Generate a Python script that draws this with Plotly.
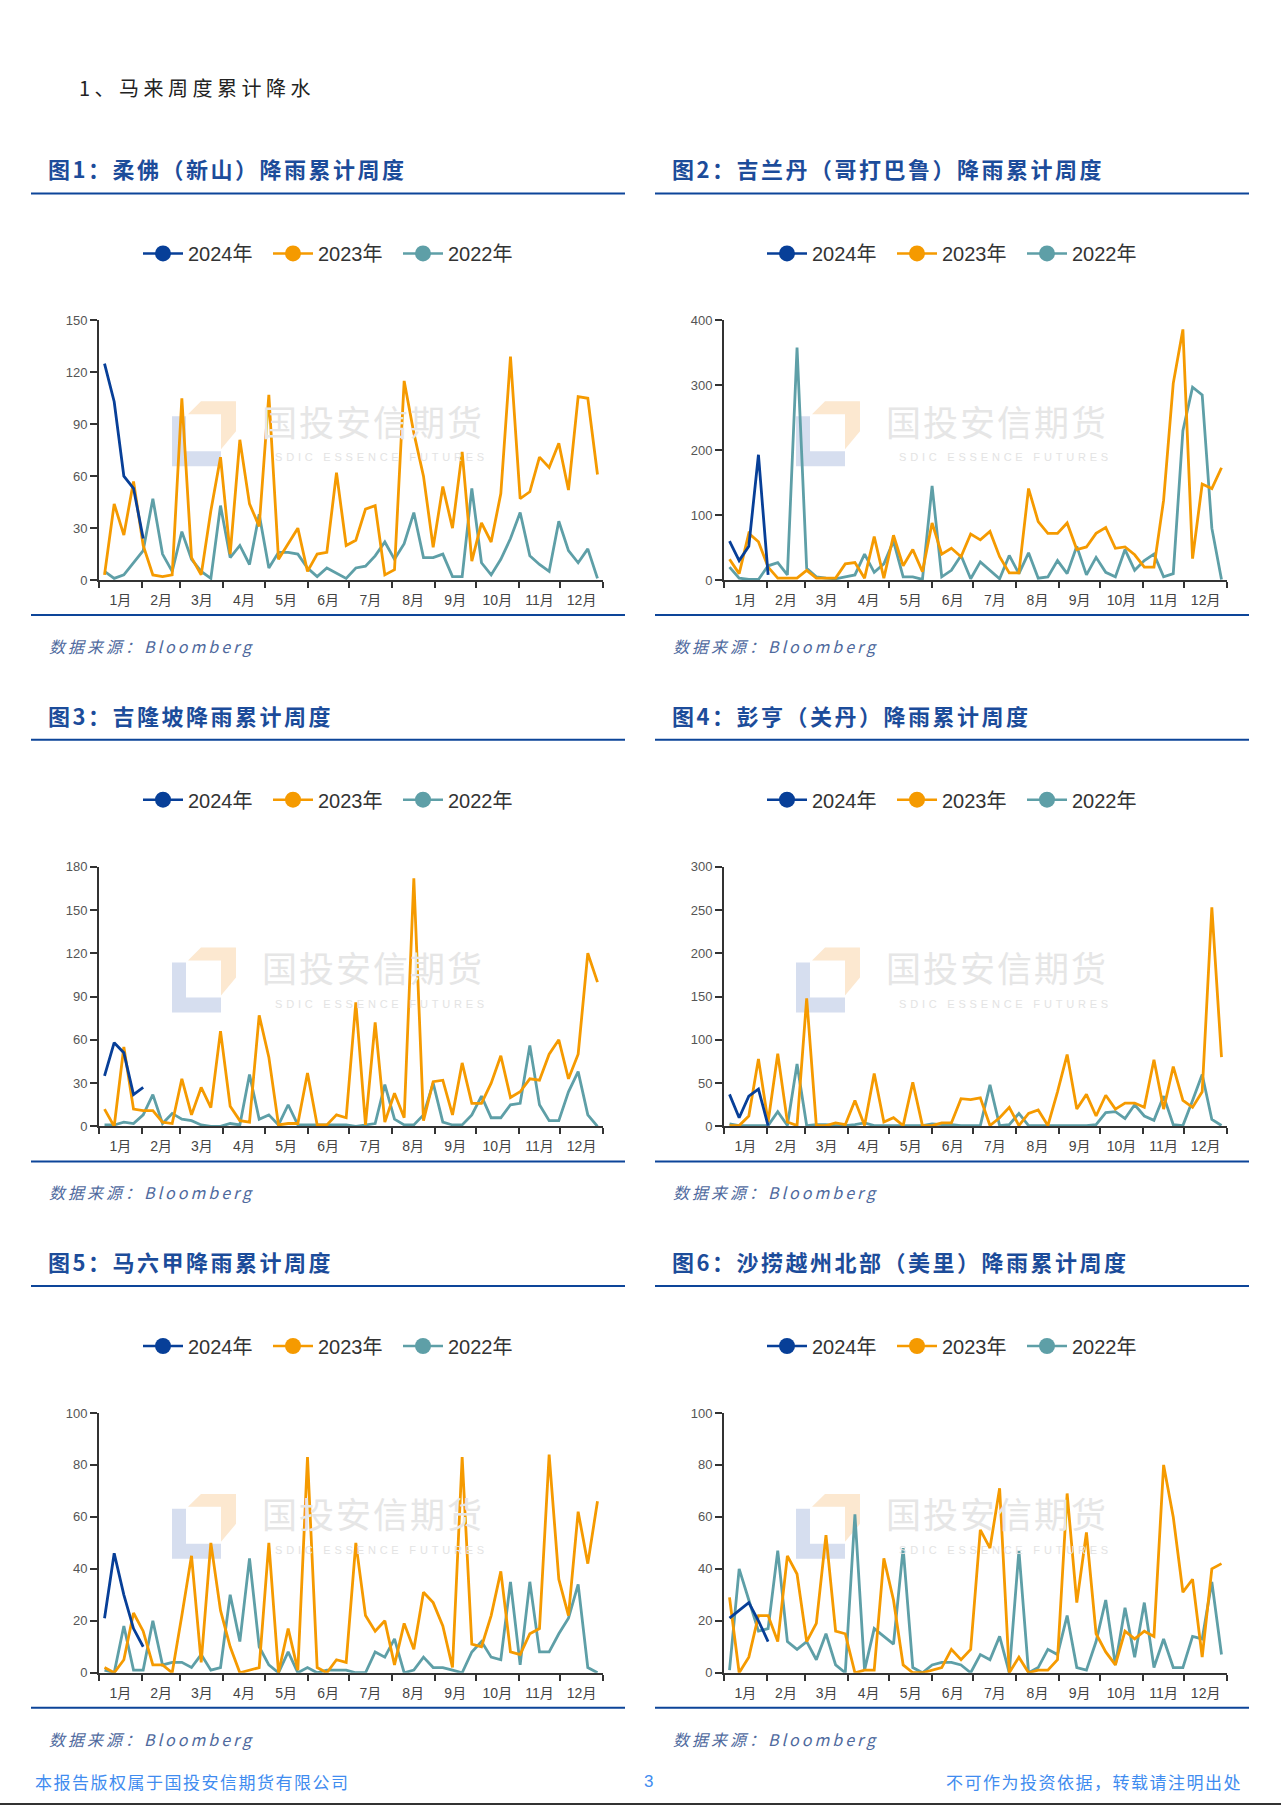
import plotly.graph_objects as go
import pandas as pd

W, H = 1281, 1813
ROW = 546.8
# measured vertical placement of the rendered page: y_seen = Y_OFF + Y_SCALE * y_figure
Y_OFF, Y_SCALE = 7.4, 0.9926

# ---------------- data ----------------
weeks = [d.strftime("%Y-%m-%d") for d in pd.date_range("2023-01-05", periods=52, freq="7D")]
weeks_2024 = weeks[:5]

series_names = ["2024年", "2023年", "2022年"]
series_colors = ["#073F98", "#F59A00", "#5E9FA7"]

chart_titles = [
    "图1：柔佛（新山）降雨累计周度",
    "图2：吉兰丹（哥打巴鲁）降雨累计周度",
    "图3：吉隆坡降雨累计周度",
    "图4：彭亨（关丹）降雨累计周度",
    "图5：马六甲降雨累计周度",
    "图6：沙捞越州北部（美里）降雨累计周度",
]
y_max = [150, 400, 180, 300, 100, 100]
y_dtick = [30, 100, 30, 50, 20, 20]

johor_2024 = [125, 103, 60, 53, 24]
johor_2023 = [3, 44, 26, 57, 20, 3, 2, 3, 105, 13, 3, 40, 71, 15, 81, 44, 31, 107, 12, 21,
              30, 5, 15, 16, 62, 20, 23, 41, 43, 3, 6, 115, 85, 60, 19, 54, 30, 74, 11, 33,
              22, 50, 129, 47, 51, 71, 65, 79, 52, 106, 105, 61]
johor_2022 = [5, 1, 3, 10, 17, 47, 15, 5, 28, 12, 5, 1, 43, 13, 20, 9, 38, 7, 16, 16,
              15, 7, 2, 7, 4, 1, 7, 8, 14, 22, 12, 21, 39, 13, 13, 15, 2, 2, 53, 10,
              3, 12, 24, 39, 14, 9, 5, 34, 17, 10, 18, 1]

kelantan_2024 = [60, 30, 52, 193, 8]
kelantan_2023 = [32, 10, 72, 59, 20, 3, 3, 3, 15, 3, 3, 3, 25, 27, 3, 67, 3, 69, 22, 47,
                 13, 88, 40, 49, 36, 71, 62, 75, 36, 11, 11, 141, 90, 72, 72, 88, 47, 51, 72, 81,
                 49, 51, 39, 20, 20, 123, 303, 386, 33, 148, 141, 173]
kelantan_2022 = [20, 3, 1, 1, 22, 27, 8, 358, 18, 5, 3, 2, 5, 8, 40, 12, 25, 60, 5, 5,
                 1, 145, 5, 15, 38, 2, 28, 15, 2, 38, 10, 42, 3, 5, 30, 10, 52, 8, 35, 12,
                 5, 47, 15, 30, 40, 5, 10, 230, 297, 285, 80, 1]

kl_2024 = [35, 58, 51, 22, 27]
kl_2023 = [12, 0, 55, 12, 11, 11, 3, 2, 33, 8, 27, 13, 66, 14, 4, 3, 77, 48, 1, 2,
           2, 37, 1, 1, 8, 6, 86, 1, 72, 3, 23, 6, 172, 4, 31, 32, 8, 44, 16, 16,
           30, 49, 20, 24, 33, 32, 50, 60, 33, 50, 120, 100]
kl_2022 = [1, 1, 3, 2, 8, 22, 2, 9, 5, 4, 1, 0, 0, 2, 1, 36, 5, 8, 1, 15,
           1, 1, 1, 1, 1, 1, 0, 1, 2, 29, 5, 1, 1, 8, 30, 3, 1, 1, 8, 21,
           6, 6, 15, 16, 56, 15, 4, 4, 24, 38, 8, 0]

pahang_2024 = [37, 10, 35, 43, 1]
pahang_2023 = [1, 1, 12, 78, 5, 84, 5, 1, 148, 1, 1, 4, 2, 30, 1, 61, 5, 10, 1, 51,
               1, 1, 4, 4, 32, 31, 33, 1, 10, 22, 1, 15, 19, 1, 40, 83, 20, 37, 12, 36,
               20, 27, 27, 22, 77, 20, 69, 30, 22, 40, 253, 80]
pahang_2022 = [3, 1, 1, 1, 1, 17, 1, 72, 1, 2, 2, 1, 1, 2, 4, 1, 1, 1, 1, 1,
               1, 3, 2, 2, 1, 1, 1, 48, 1, 2, 15, 1, 1, 1, 1, 1, 1, 1, 2, 16,
               17, 9, 25, 12, 7, 35, 2, 1, 30, 60, 8, 1]

malacca_2024 = [21, 46, 30, 17, 10]
malacca_2023 = [2, 0, 5, 23, 16, 3, 3, 0, 22, 45, 4, 50, 24, 10, 0, 1, 2, 50, 0, 17,
                1, 83, 2, 0, 5, 4, 50, 22, 16, 20, 3, 19, 9, 31, 27, 18, 2, 83, 11, 10,
                22, 39, 8, 7, 15, 17, 84, 36, 22, 62, 42, 66]
malacca_2022 = [1, 0, 18, 1, 1, 20, 3, 4, 4, 2, 7, 1, 2, 30, 12, 44, 10, 3, 0, 8,
                0, 2, 0, 1, 1, 1, 0, 0, 8, 6, 13, 0, 1, 6, 2, 2, 1, 0, 8, 12,
                6, 5, 35, 3, 35, 8, 8, 15, 21, 34, 2, 0]

sarawak_2024 = [21, 24, 27, 20, 12]
sarawak_2023 = [29, 0, 6, 22, 22, 12, 45, 38, 12, 19, 53, 16, 15, 0, 1, 1, 44, 28, 3, 0,
                0, 1, 2, 9, 5, 9, 55, 48, 71, 0, 6, 0, 1, 1, 5, 69, 27, 54, 15, 8,
                3, 16, 13, 16, 14, 80, 60, 31, 36, 6, 40, 42]
sarawak_2022 = [1, 40, 28, 16, 17, 47, 12, 9, 12, 5, 15, 3, 0, 61, 1, 17, 14, 11, 48, 2,
                0, 3, 4, 4, 3, 0, 7, 5, 14, 0, 47, 0, 2, 9, 7, 22, 2, 1, 12, 28,
                3, 25, 6, 27, 2, 13, 2, 2, 14, 13, 35, 7]

charts = [
    (johor_2024, johor_2023, johor_2022),
    (kelantan_2024, kelantan_2023, kelantan_2022),
    (kl_2024, kl_2023, kl_2022),
    (pahang_2024, pahang_2023, pahang_2022),
    (malacca_2024, malacca_2023, malacca_2022),
    (sarawak_2024, sarawak_2023, sarawak_2022),
]

# ---------------- helpers (page px -> paper) ----------------
def X(px):
    return px / W

def Y(py):
    fy = (py - Y_OFF) / Y_SCALE
    fy = min(max(fy, 0), H - 1)
    return 1 - fy / H

CJK = "Noto Sans CJK SC"
LAT = "Liberation Sans, Noto Sans CJK SC"

plot_x = [(99, 603), (724, 1227)]
col_off = [0, 624]

fig = go.Figure()
layout = dict(
    width=W, height=H, autosize=False,
    margin=dict(l=0, r=0, t=0, b=0),
    paper_bgcolor="white", plot_bgcolor="white",
    showlegend=True,
)
annotations = []
shapes = []

def hline(x0, x1, y, color, width):
    shapes.append(dict(type="line", xref="paper", yref="paper",
                       x0=X(x0), x1=X(x1), y0=Y(y), y1=Y(y),
                       line=dict(color=color, width=width), layer="above"))

def poly(points, ox, oy, color):
    path = "M " + " L ".join(f"{X(ox + px):.5f},{Y(oy + py):.5f}" for px, py in points) + " Z"
    shapes.append(dict(type="path", xref="paper", yref="paper", path=path,
                       fillcolor=color, line=dict(width=0), layer="below"))

# header
annotations.append(dict(
    text='<span style="letter-spacing:4.5px">1、马来周度累计降水</span>',
    x=X(77), y=Y(88), xref="paper", yref="paper", xanchor="left", yanchor="middle",
    showarrow=False, font=dict(family=CJK, size=20, color="#222222")))

for k, (s24, s23, s22) in enumerate(charts):
    r, c = divmod(k, 2)
    dy = r * ROW
    off = col_off[c]
    xa = "xaxis" if k == 0 else f"xaxis{k+1}"
    ya = "yaxis" if k == 0 else f"yaxis{k+1}"
    xr = "x" if k == 0 else f"x{k+1}"
    yr = "y" if k == 0 else f"y{k+1}"
    lg = "legend" if k == 0 else f"legend{k+1}"

    x0, x1 = plot_x[c]
    top, bot = 321 + dy, 581 + dy

    layout[xa] = dict(
        domain=[X(x0), X(x1)], anchor=yr, type="date",
        range=["2023-01-01", "2024-01-01"], tick0="2023-01-01", dtick="M1",
        ticklabelmode="period", tickformat="%-m月",
        showline=True, linecolor="#333333", linewidth=2,
        ticks="outside", ticklen=6, tickwidth=2, tickcolor="#333333",
        tickfont=dict(family=LAT, size=14, color="#444444"),
        showgrid=False, zeroline=False, fixedrange=True,
    )
    layout[ya] = dict(
        domain=[Y(bot), Y(top)], anchor=xr,
        range=[0, y_max[k]], tick0=0, dtick=y_dtick[k],
        showline=True, linecolor="#333333", linewidth=2,
        ticks="outside", ticklen=7, tickwidth=2, tickcolor="#333333",
        tickfont=dict(family=LAT, size=13, color="#555555"),
        showgrid=False, zeroline=False, fixedrange=True,
    )
    layout[lg] = dict(
        orientation="h", x=X(138 + off), y=Y(254 + dy), xanchor="left", yanchor="middle",
        font=dict(family=LAT, size=20, color="#333333"),
        bgcolor="rgba(0,0,0,0)", borderwidth=0, traceorder="normal",
        itemwidth=40, entrywidth=75, entrywidthmode="pixels",
    )

    # legend-only entries
    for name, color in zip(series_names, series_colors):
        fig.add_trace(go.Scatter(
            x=[None], y=[None], name=name, mode="lines+markers",
            line=dict(color=color, width=2.5), marker=dict(color=color, size=17),
            xaxis=xr, yaxis=yr, legend=lg, showlegend=True, hoverinfo="skip"))

    # data lines (2022 under, 2024 on top)
    for name, color, xs, ys in [
        (series_names[2], series_colors[2], weeks, s22),
        (series_names[1], series_colors[1], weeks, s23),
        (series_names[0], series_colors[0], weeks_2024, s24),
    ]:
        fig.add_trace(go.Scatter(
            x=xs, y=ys, name=name, mode="lines",
            line=dict(color=color, width=2.8),
            xaxis=xr, yaxis=yr, legend=lg, showlegend=False))

    # title, rules, source
    annotations.append(dict(
        text=f'<span style="letter-spacing:2.5px"><b>{chart_titles[k]}</b></span>',
        x=X(45.6 + off), y=Y(169 + dy), xref="paper", yref="paper",
        xanchor="left", yanchor="middle", showarrow=False,
        font=dict(family=CJK, size=22, color="#1C4C9A")))
    hline(31 + off, 625 + off, 194 + dy, "#0D4599", 2)
    hline(31 + off, 625 + off, 616 + dy, "#0D4599", 2)
    annotations.append(dict(
        text='<span style="letter-spacing:3px"><i>数据来源：Bloomberg</i></span>',
        x=X(47 + off), y=Y(647 + dy), xref="paper", yref="paper",
        xanchor="left", yanchor="middle", showarrow=False,
        font=dict(family=CJK, size=16, color="#4F6A9E")))

    # watermark
    ox, oy = 172 + off, 402 + dy
    poly([(0, 15), (14, 15), (14, 50), (49, 50), (49, 65), (0, 65)], ox, oy, "#D6DEEF")
    poly([(16, 13), (29, 0), (64, 0), (64, 30), (49, 48), (49, 13)], ox, oy, "#FCE8D0")
    annotations.append(dict(
        text='<span style="letter-spacing:2px">国投安信期货</span>',
        x=X(260 + off), y=Y(421 + dy), xref="paper", yref="paper",
        xanchor="left", yanchor="middle", showarrow=False,
        font=dict(family=CJK, size=35, color="#E6E6E6")))
    annotations.append(dict(
        text='<span style="letter-spacing:3.8px">SDIC ESSENCE FUTURES</span>',
        x=X(273 + off), y=Y(458 + dy), xref="paper", yref="paper",
        xanchor="left", yanchor="middle", showarrow=False,
        font=dict(family=LAT, size=11, color="#E3E3E3")))

# footer
annotations.append(dict(
    text='<span style="letter-spacing:1.5px">本报告版权属于国投安信期货有限公司</span>',
    x=X(33), y=Y(1783), xref="paper", yref="paper", xanchor="left", yanchor="middle",
    showarrow=False, font=dict(family=CJK, size=17, color="#3F8CF0")))
annotations.append(dict(
    text="3", x=X(648), y=Y(1783), xref="paper", yref="paper", xanchor="center", yanchor="middle",
    showarrow=False, font=dict(family=LAT, size=17, color="#3F8CF0")))
annotations.append(dict(
    text='<span style="letter-spacing:1.5px">不可作为投资依据，转载请注明出处</span>',
    x=X(1244), y=Y(1783), xref="paper", yref="paper", xanchor="right", yanchor="middle",
    showarrow=False, font=dict(family=CJK, size=17, color="#3F8CF0")))
hline(0, W, 1811, "#333333", 2)

layout["annotations"] = annotations
layout["shapes"] = shapes
fig.update_layout(**layout)
fig.write_html("out.html", config={"displayModeBar": False})
